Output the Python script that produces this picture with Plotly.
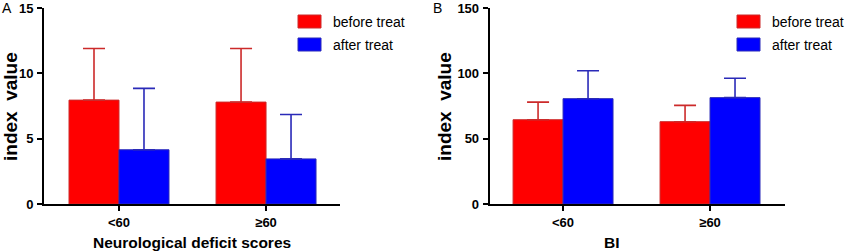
import plotly.graph_objects as go
from plotly.subplots import make_subplots

categories = ["<60", "≥60"]
series_names = ["before treat", "after treat"]

# Panel A: Neurological deficit scores
a_before = [7.95, 7.8]
a_before_err = [3.95, 4.1]
a_after = [4.15, 3.45]
a_after_err = [4.7, 3.4]

# Panel B: BI
b_before = [64.5, 63.0]
b_before_err = [13.5, 12.5]
b_after = [80.6, 81.4]
b_after_err = [21.4, 14.8]

a_ticks = [0, 5, 10, 15]
b_ticks = [0, 50, 100, 150]

RED = "#ff0000"
BLUE = "#0000ff"
RED_EDGE = "#cc2a2a"
BLUE_EDGE = "#2a2ab8"

W, H = 858, 252
fig = make_subplots(rows=1, cols=2)

def add_pair(col, before, berr, after, aerr):
    fig.add_trace(go.Bar(
        x=categories, y=before, name=series_names[0], showlegend=False,
        marker=dict(color=RED, line=dict(color=RED_EDGE, width=1)),
        error_y=dict(type="data", array=berr, arrayminus=[0]*len(berr), symmetric=False,
                     color=RED_EDGE, thickness=1.6, width=11),
    ), row=1, col=col)
    fig.add_trace(go.Bar(
        x=categories, y=after, name=series_names[1], showlegend=False,
        marker=dict(color=BLUE, line=dict(color=BLUE_EDGE, width=1)),
        error_y=dict(type="data", array=aerr, arrayminus=[0]*len(aerr), symmetric=False,
                     color=BLUE_EDGE, thickness=1.6, width=11),
    ), row=1, col=col)

add_pair(1, a_before, a_before_err, a_after, a_after_err)
add_pair(2, b_before, b_before_err, b_after, b_after_err)

FONT = "Liberation Sans, Arial, sans-serif"
y0 = (H - 204) / H
y1 = (H - 8) / H
axA = (44 / W, 340 / W)
axB = (489.7 / W, 785 / W)

common_x = dict(showline=True, linecolor="black", linewidth=2, ticks="outside", automargin=False,
                ticklen=5, tickwidth=1.5, tickcolor="black", showgrid=False, zeroline=False,
                tickfont=dict(family=FONT, size=13, color="black", weight="bold"))
common_y = dict(showline=True, linecolor="black", linewidth=2, ticks="outside", automargin=False,
                ticklen=5, tickwidth=1.5, tickcolor="black", showgrid=False, zeroline=False,
                tickfont=dict(family=FONT, size=13, color="black", weight="bold"), ticklabelstandoff=1)

fig.update_layout(
    width=W, height=H, margin=dict(l=0, r=0, t=0, b=0, autoexpand=False),
    paper_bgcolor="white", plot_bgcolor="white",
    barmode="group", bargap=0.32, bargroupgap=0,
    showlegend=False,
    xaxis=dict(domain=list(axA), range=[-0.51, 1.503], **common_x),
    xaxis2=dict(domain=list(axB), range=[-0.499, 1.51], **common_x),
    yaxis=dict(domain=[y0, y1], range=[0, 15], tickvals=a_ticks, **common_y),
    yaxis2=dict(domain=[y0, y1], range=[0, 150], tickvals=b_ticks, **common_y),
)

ann = []
shapes = []
def txt(x, y, s, size, bold=False, angle=0, xanchor="center", yanchor="middle"):
    ann.append(dict(x=x / W, y=(H - y) / H, xref="paper", yref="paper", text=s, showarrow=False,
                    textangle=angle, xanchor=xanchor, yanchor=yanchor,
                    font=dict(family=FONT, size=size, color="black", weight="bold" if bold else "normal")))

# Axis titles
txt(10, 107, "index  value", 19, bold=True, angle=-90)
txt(444, 107, "index  value", 19, bold=True, angle=-90)
txt(192, 242, "Neurological deficit scores", 15.5, bold=True)
txt(612, 242, "BI", 15.5, bold=True)
# Panel letters
txt(0, 8, "A", 14, xanchor="left")
txt(431, 8, "B", 14, xanchor="left")

# Legends
def legend(x_sw, x_txt):
    for i, (nm, c, e) in enumerate(zip(series_names, [RED, BLUE], [RED_EDGE, BLUE_EDGE])):
        top = 15 + i * 23
        shapes.append(dict(type="rect", xref="paper", yref="paper",
                           x0=x_sw / W, x1=(x_sw + 23) / W,
                           y0=(H - top - 13) / H, y1=(H - top) / H,
                           fillcolor=c, line=dict(color=e, width=1)))
        txt(x_txt, top + 7, nm, 14, xanchor="left")

legend(298, 331)
legend(737, 770)

fig.update_layout(annotations=ann, shapes=shapes)
fig.write_html("out.html")
